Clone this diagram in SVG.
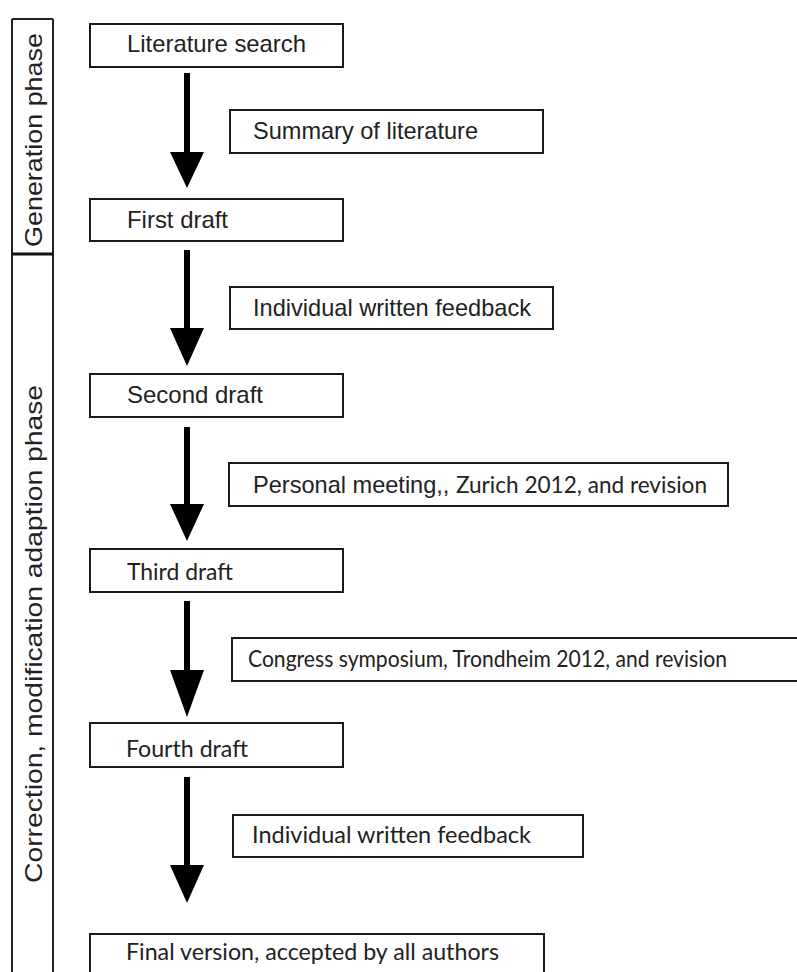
<svg xmlns="http://www.w3.org/2000/svg" width="797" height="972" viewBox="0 0 797 972">
<style>
.box{fill:#fff;stroke:#1a1a1a;stroke-width:2}
.h{font-family:"Liberation Sans",Arial,sans-serif;font-size:24px;fill:#222}
.m{font-family:Lato,"Open Sans",sans-serif;font-size:23px;fill:#222}
.shaft{stroke:#000;stroke-width:6}
.head{fill:#000}
.strip{fill:none;stroke:#222;stroke-width:2}
</style>
<rect width="797" height="972" fill="#fff"/>
<g id="phases">
<line class="strip" x1="12" y1="19" x2="53" y2="19"/>
<line class="strip" x1="12" y1="19" x2="12" y2="972"/>
<line class="strip" x1="53" y1="19" x2="53" y2="972"/>
<line x1="12" y1="254" x2="53" y2="254" stroke="#111" stroke-width="3"/>
<text class="h" transform="translate(42,247) rotate(-90)" textLength="214" lengthAdjust="spacingAndGlyphs">Generation phase</text>
<text class="h" transform="translate(42,883) rotate(-90)" textLength="498" lengthAdjust="spacingAndGlyphs">Correction, modification adaption phase</text>
</g>
<g id="connectors">
<line class="shaft" x1="187" y1="73" x2="187" y2="154"/>
<polygon class="head" points="170,152 204,152 187,188"/>
<line class="shaft" x1="187" y1="250" x2="187" y2="330"/>
<polygon class="head" points="170,328 204,328 187,366"/>
<line class="shaft" x1="187" y1="427" x2="187" y2="506"/>
<polygon class="head" points="170,504 204,504 187,541"/>
<line class="shaft" x1="187" y1="601" x2="187" y2="672"/>
<polygon class="head" points="170,670 204,670 187,717"/>
<line class="shaft" x1="187" y1="777" x2="187" y2="867"/>
<polygon class="head" points="170,865 204,865 187,903"/>
</g>
<g id="literature-search">
<rect class="box" x="90" y="24" width="253" height="43"/>
<text class="h" x="127" y="52" textLength="179" lengthAdjust="spacingAndGlyphs">Literature search</text>
</g>
<g id="summary">
<rect class="box" x="230" y="110" width="313" height="43"/>
<text class="h" x="253" y="139" textLength="225" lengthAdjust="spacingAndGlyphs">Summary of literature</text>
</g>
<g id="first-draft">
<rect class="box" x="90" y="199" width="253" height="42"/>
<text class="h" x="127" y="228" textLength="101" lengthAdjust="spacingAndGlyphs">First draft</text>
</g>
<g id="feedback1">
<rect class="box" x="230" y="287" width="323" height="42"/>
<text class="h" x="253" y="316" textLength="278" lengthAdjust="spacingAndGlyphs">Individual written feedback</text>
</g>
<g id="second-draft">
<rect class="box" x="90" y="374" width="253" height="43"/>
<text class="h" x="127" y="403" textLength="136" lengthAdjust="spacingAndGlyphs">Second draft</text>
</g>
<g id="meeting">
<rect class="box" x="229" y="463" width="499" height="43"/>
<text x="253" y="493" textLength="454" lengthAdjust="spacingAndGlyphs"><tspan class="h">Personal meeting,, </tspan><tspan class="m">Zurich 2012, and revision</tspan></text>
</g>
<g id="third-draft">
<rect class="box" x="90" y="549" width="253" height="43"/>
<text class="m" x="127" y="580" textLength="106" lengthAdjust="spacingAndGlyphs">Third draft</text>
</g>
<g id="congress">
<rect class="box" x="232" y="638" width="580" height="43"/>
<text class="m" x="248" y="667" textLength="479" lengthAdjust="spacingAndGlyphs">Congress symposium, Trondheim 2012, and revision</text>
</g>
<g id="fourth-draft">
<rect class="box" x="90" y="723" width="253" height="44"/>
<text class="m" x="126" y="757" textLength="122" lengthAdjust="spacingAndGlyphs">Fourth draft</text>
</g>
<g id="feedback2">
<rect class="box" x="233" y="815" width="350" height="42"/>
<text class="m" x="252" y="843" textLength="279" lengthAdjust="spacingAndGlyphs">Individual written feedback</text>
</g>
<g id="final-version">
<rect class="box" x="90" y="934" width="454" height="60"/>
<text class="m" x="126" y="960" textLength="373" lengthAdjust="spacingAndGlyphs">Final version, accepted by all authors</text>
</g>
</svg>
